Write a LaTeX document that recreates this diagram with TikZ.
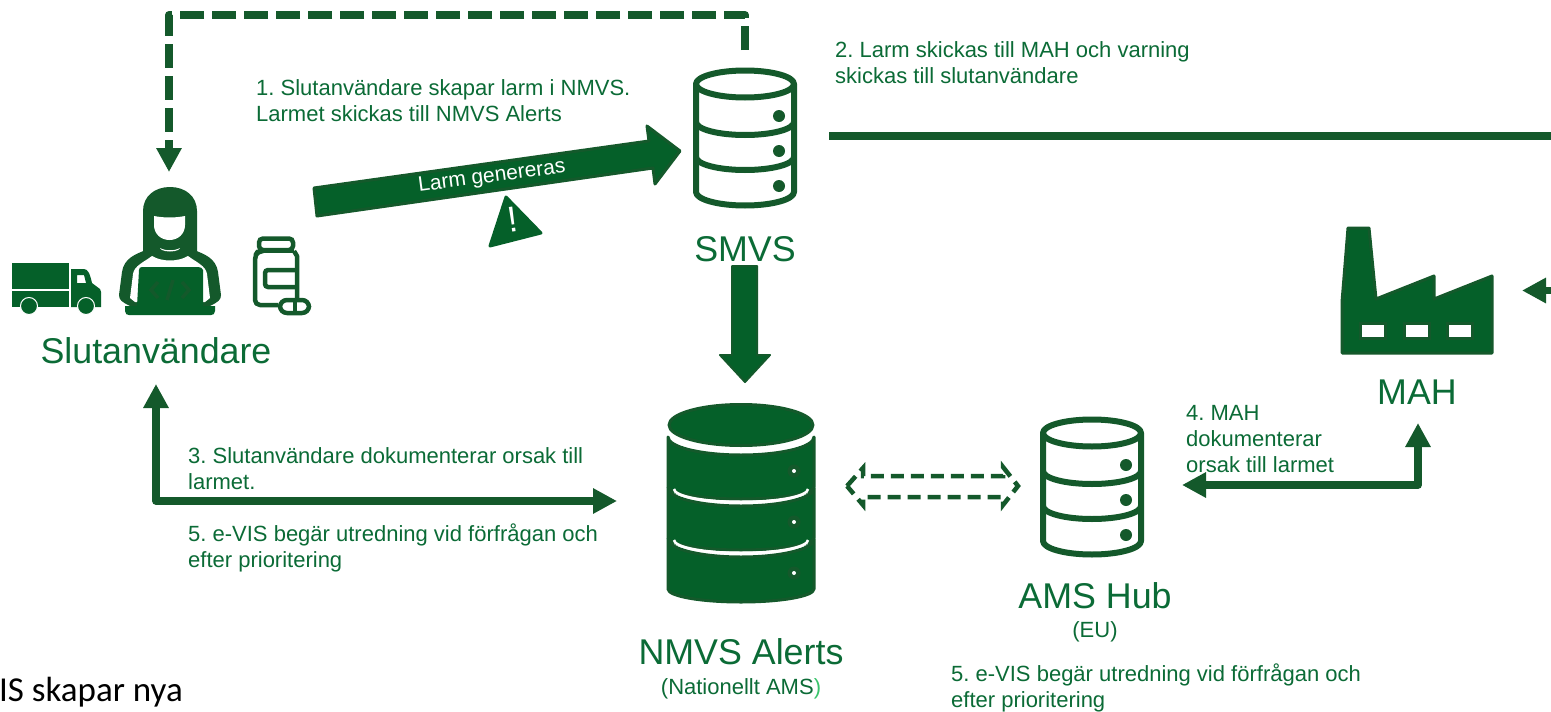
\documentclass[tikz,border=0pt]{standalone}
\usepackage{fontspec}
\setmainfont{Liberation Sans}
\newfontfamily\calib{Carlito}
\usetikzlibrary{arrows.meta}
\definecolor{gfill}{HTML}{056029}
\definecolor{gline}{HTML}{14592B}
\definecolor{gtext}{HTML}{0B6B36}
\definecolor{glight}{HTML}{39C46B}
\tikzset{
  conn/.style={draw=gline,line width=7.5pt,line join=round},
  bigtip/.style={-{Triangle[width=24pt,length=24pt]}},
  bothtips/.style={{Triangle[width=24pt,length=24pt]}-{Triangle[width=24pt,length=24pt]}},
  bodytext/.style={text=gtext,font=\fontsize{22}{26}\selectfont\frenchspacing,align=left,inner sep=0pt,anchor=west},
  labeltext/.style={text=gtext,font=\fontsize{35.8}{40}\selectfont,inner sep=0pt},
  subtext/.style={text=gtext,font=\fontsize{22}{26}\selectfont,inner sep=0pt},
  darkicon/.style={fill=gfill,draw=gline,line width=3pt,line join=round},
  outicon/.style={draw=gline,line width=6pt,line join=round,fill=white},
}
\newcommand{\dbOutline}[2]{% cx, y offset
  \begin{scope}[shift={(#1,#2)}]
    \draw[outicon] (-49,84) -- (-49,192) arc[start angle=180,end angle=0,x radius=49,y radius=13.5] -- (49,84) arc[start angle=0,end angle=-180,x radius=49,y radius=13.5] -- cycle;
    \draw[outicon,fill=none] (-49,84) arc[start angle=180,end angle=0,x radius=49,y radius=13.5];
    \draw[outicon,fill=none] (-49,122) arc[start angle=180,end angle=0,x radius=49,y radius=13];
    \draw[outicon,fill=none] (-49,157) arc[start angle=180,end angle=0,x radius=49,y radius=13];
    \fill[gline] (34,116) circle[radius=6] (34,151) circle[radius=6] (34,186) circle[radius=6];
  \end{scope}}
\newcommand{\dbBand}[3]{% top side y, bottom side y, bottom dip
  \draw[darkicon] (-73,#1) arc[start angle=180,end angle=0,x radius=73,y radius=18] -- (73,#2) arc[start angle=0,end angle=180,x radius=73,y radius=#3] -- cycle;}
\begin{document}
\begin{tikzpicture}[x=1pt,y=-1pt]
\useasboundingbox (0,0) rectangle (1551,712);
\clip (0,0) rectangle (1551,712);
\fill[white] (0,0) rectangle (1551,712);

% anchors for connectors
\coordinate (smvsTop) at (745,50);
\coordinate (cornerTR) at (745,15);
\coordinate (cornerTL) at (169,15);
\coordinate (userTop) at (169,172);
\coordinate (lineStart) at (829,136);
\coordinate (lineEnd) at (1551,136);
\coordinate (mahIn) at (1522,290.5);
\coordinate (rightEdge) at (1551,290.5);
\coordinate (userLow) at (156,384);
\coordinate (cornerL) at (156,501);
\coordinate (alertsLeft) at (617,501);
\coordinate (mahLow) at (1418,423);
\coordinate (cornerR) at (1418,485);
\coordinate (hubRight) at (1182,485);

% truck
\fill[gfill] (12,263) rectangle (69,289);
\fill[gfill] (12,291) rectangle (69,307);
\fill[gfill,even odd rule] (71,269) -- (84,269) .. controls (88,269) and (90,274) .. (92,283) -- (100,289) -- (101,292) -- (101,307) -- (71,307) -- cycle
  (77,275) -- (77,283) -- (86,283) -- (84,275) -- cycle;
\fill[gfill,draw=white,line width=1pt] (29,306) circle[radius=8.5];
\fill[gfill,draw=white,line width=1pt] (86,306) circle[radius=8.5];

% person
\fill[gline] (143,253) -- (143,211) .. controls (143,196) and (155,187) .. (170,187) .. controls (185,187) and (197,196) .. (197,211) -- (197,253) -- cycle;
\fill[gline] (146,250) .. controls (136,254) and (124,258) .. (122,272) -- (119,295) .. controls (119,300) and (122,302) .. (130,306) -- (210,306) .. controls (218,302) and (221,300) .. (221,295) -- (218,272) .. controls (216,258) and (204,254) .. (194,250) -- cycle;
\fill[white] (154,216) .. controls (164,218) and (175,218) .. (185,216) -- (185,225) .. controls (185,234) and (178,240) .. (169.5,240) .. controls (161,240) and (154,234) .. (154,225) -- cycle;
\fill[white] (160,248) .. controls (165,251) and (175,251) .. (180,248) -- (178,250) .. controls (174,252) and (166,252) .. (162,250) -- cycle;
\fill[white] (130,298) -- (133,274) .. controls (134,266) and (144,262) .. (152,256) .. controls (162,262) and (178,262) .. (188,256) .. controls (196,262) and (206,266) .. (207,274) -- (210,298) -- (205,302) -- (135,302) -- cycle;
\fill[gfill] (139,270) .. controls (139,268) and (140,267) .. (142,267) -- (198,267) .. controls (200,267) and (203,268) .. (203,270) -- (203,306) -- (137,306) -- cycle;
\fill[gfill] (125,306) -- (215,306) -- (215,311) .. controls (215,314) and (213,315) .. (211,315) -- (129,315) .. controls (127,315) and (125,314) .. (125,311) -- cycle;
\draw[gline,line width=3.5pt] (158,282) -- (151,290) -- (158,298) (182,282) -- (189,290) -- (182,298) (173,280) -- (167,300);

% pill bottle
\draw[gline,line width=4.5pt,rounded corners=5pt,line join=round] (263,251) -- (258,251) -- (255,256) -- (255,305) -- (278,305);
\draw[gline,line width=4.5pt,line join=round] (294,251) -- (297,256) -- (297,298);
\draw[gline,line width=4.5pt] (258,251) -- (294,251);
\draw[gline,line width=4.5pt,rounded corners=4pt,fill=white] (259,238.5) rectangle (293,250);
\draw[gline,line width=4.5pt,rounded corners=3pt] (297,270) -- (265,270) -- (265,287) -- (297,287);
\draw[gline,line width=4.5pt,fill=white,rounded corners=7pt] (280,300) rectangle (309,313);
\draw[gline,line width=4.5pt] (295,300) -- (295,313);

% top dashed connector
\draw[conn,line width=8pt,dash pattern=on 24pt off 8pt,line join=round,bigtip] (smvsTop) -- (cornerTR) -- (cornerTL) -- (userTop);

% generated-alarm arrow
\draw[darkicon] (314,188) -- (649,141) -- (647,126) -- (680,151) -- (655,184) -- (653,168) -- (317,216) -- cycle;
\node[text=white,font=\fontsize{21}{24}\selectfont,rotate=7.5,inner sep=0pt] (larmtext) at (492,177) {Larm genereras};

% warning triangle
\draw[fill=gfill,draw=gfill,line width=3pt,line join=round] (506,197) -- (541,233) -- (490,246) -- cycle;
\node[text=white,font=\fontsize{36}{40}\selectfont,rotate=8,inner sep=0pt] (warn) at (513,220) {!};

% SMVS
\dbOutline{745}{0}
% big arrow SMVS to alerts
\fill[gfill,draw=gline,line width=2pt,line join=round] (732,266) -- (757,266) -- (757,355) -- (770,355) -- (745,382) -- (720,355) -- (732,355) -- cycle;

% line and arrows
\draw[conn] (lineStart) -- (lineEnd);
\draw[conn,line width=6.5pt,-{Triangle[width=24pt,length=24pt]}] (rightEdge) -- (mahIn);
\draw[conn,bothtips] (userLow) -- (cornerL) -- (alertsLeft);
\draw[conn,bothtips] (mahLow) -- (cornerR) -- (hubRight);

% NMVS Alerts
\begin{scope}[shift={(741,0)}]
  \dbBand{539}{589}{13}
  \dbBand{488}{538}{12}
  \dbBand{437}{487}{12}
  \draw[darkicon] (0,425) ellipse[x radius=72,y radius=20.5];
  \foreach \yy/\sd in {438/451,489/502,540/553}{
    \pgfmathsetmacro{\dipr}{\sd-\yy}
    \draw[white,line width=2.6pt] (-67,\yy) arc[start angle=180,end angle=0,x radius=67,y radius=\dipr];
  }
  \foreach \yy in {471,522,573}{
    \fill[gline] (53,\yy) circle[radius=6.5];
    \fill[white] (53,\yy) circle[radius=2];
  }
\end{scope}

% dashed double arrow
\draw[gline,line width=4.5pt,dash pattern=on 13pt off 7pt,line join=miter] (847,486) -- (863,468) -- (863,476) -- (1003,476) -- (1003,467) -- (1018,486) -- (1003,505) -- (1003,497) -- (863,497) -- (863,505) -- cycle;

% AMS Hub
\dbOutline{1092}{349}

% factory
\draw[darkicon] (1348,228) -- (1369,228) -- (1376,299) -- (1434,276) -- (1434,299) -- (1492,276) -- (1492,353) -- (1342,353) -- (1342,302) -- cycle;
\foreach \xx in {1362,1406,1449}{
  \draw[gline,line width=3pt,fill=white] (\xx-1.5,323.5) rectangle (\xx+23.5,338.5);
}

% labels
\node[labeltext] (lSlut) at (156,351) {Slutanvändare};
\node[labeltext] (lSmvs) at (745,249) {SMVS};
\node[labeltext] (lMah) at (1417,392) {MAH};
\node[labeltext] (lAlerts) at (741,652) {NMVS Alerts};
\node[subtext] (lNat) at (741,689) {(Nationellt AMS\textcolor{glight}{)}};
\node[labeltext] (lHub) at (1095,596) {AMS Hub};
\node[subtext] (lEu) at (1095,632) {(EU)};

\node[bodytext] (t1) at (256,101) {1. Slutanvändare skapar larm i NMVS.\\Larmet skickas till NMVS Alerts};
\node[bodytext] (t2) at (835,63) {2. Larm skickas till MAH och varning\\skickas till slutanvändare};
\node[bodytext] (t3) at (188,469) {3. Slutanvändare dokumenterar orsak till\\larmet.};
\node[bodytext] (t4) at (1186,439) {4. MAH\\dokumenterar\\orsak till larmet};
\node[bodytext] (t5) at (188,548) {5. e-VIS begär utredning vid förfrågan och\\efter prioritering};
\node[bodytext] (t6) at (951,688) {5. e-VIS begär utredning vid förfrågan och\\efter prioritering};
\node[text=black,font=\calib\fontsize{35}{40}\selectfont,anchor=base east,inner sep=0pt] (t7) at (183,701) {e-VIS skapar nya};
\end{tikzpicture}
\end{document}
